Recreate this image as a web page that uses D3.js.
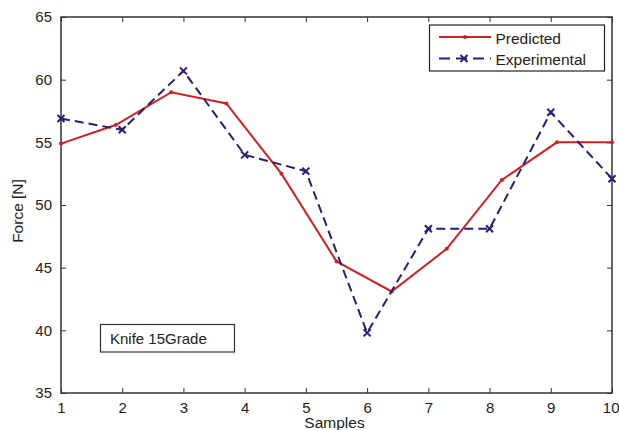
<!DOCTYPE html>
<meta charset="utf-8">
<script src="https://d3js.org/d3.v7.min.js"></script>
<style>
  body { margin: 0; background: #fff; }
  text { font-family: "Liberation Sans", Arial, sans-serif; fill: #222; }
</style>
<div id="chart"></div>

<script>
  // data
  var predX = [1, 1.9, 2.8, 3.7, 4.6, 5.5, 6.4, 7.3, 8.2, 9.1, 10];
  var predY = [54.9, 56.4, 59.0, 58.1, 52.5, 45.5, 43.1, 46.5, 52.0, 55.0, 55.0];
  var expX = [1, 2, 3, 4, 5, 6, 7, 8, 9, 10];
  var expY = [56.9, 56.0, 60.7, 54.0, 52.7, 39.8, 48.1, 48.1, 57.4, 52.1];
  var xTicks = [1, 2, 3, 4, 5, 6, 7, 8, 9, 10];
  var yTicks = [35, 40, 45, 50, 55, 60, 65];

  var margin = { top: 17, right: 7, bottom: 37, left: 61 },
    width = 619 - margin.left - margin.right,
    height = 430 - margin.top - margin.bottom;

  var svg = d3.select("#chart")
    .append("svg")
    .attr("width", 619)
    .attr("height", 430)
    .append("g")
    .attr("transform", "translate(" + margin.left + "," + margin.top + ")");

  var x = d3.scaleLinear().domain([1, 10]).range([0, width]);
  var y = d3.scaleLinear().domain([35, 65]).range([height, 0]);

  // axes, matlab style: ticks inside on all four sides
  function styleAxis(g) {
    g.select(".domain").remove();
    g.selectAll(".tick line").attr("stroke", "#333").attr("stroke-width", 1);
    g.selectAll(".tick text").style("font-size", "15px").attr("fill", "#333");
  }
  var gx = svg.append("g")
    .attr("transform", "translate(0," + height + ")")
    .call(d3.axisBottom(x).tickValues(xTicks).tickSize(-5).tickPadding(9))
    .call(styleAxis);
  // last label sits at the window edge, keep it inside
  gx.selectAll(".tick text")
    .filter(function (d) { return d === 10; })
    .attr("text-anchor", "end")
    .attr("x", 7);
  svg.append("g")
    .call(d3.axisLeft(y).tickValues(yTicks).tickSize(-5).tickPadding(9))
    .call(styleAxis);
  svg.append("g")
    .call(d3.axisTop(x).tickValues(xTicks).tickSize(-5).tickFormat(""))
    .call(styleAxis);
  svg.append("g")
    .attr("transform", "translate(" + width + ",0)")
    .call(d3.axisRight(y).tickValues(yTicks).tickSize(-5).tickFormat(""))
    .call(styleAxis);

  svg.append("rect")
    .attr("width", width)
    .attr("height", height)
    .attr("fill", "none")
    .attr("stroke", "#333")
    .attr("stroke-width", 1.5);

  // axis labels
  svg.append("text")
    .attr("x", width / 2 - 2)
    .attr("y", height + 35)
    .attr("text-anchor", "middle")
    .style("font-size", "15.5px")
    .text("Samples");
  svg.append("text")
    .attr("transform", "translate(-38," + (height / 2 + 6) + ") rotate(-90)")
    .attr("text-anchor", "middle")
    .style("font-size", "15.5px")
    .text("Force [N]");

  var red = "#cc2222", blue = "#2a1d7a";

  var predData = predX.map(function (d, i) { return [d, predY[i]]; });
  var expData = expX.map(function (d, i) { return [d, expY[i]]; });
  var line = d3.line()
    .x(function (d) { return x(d[0]); })
    .y(function (d) { return y(d[1]); });

  svg.append("path")
    .datum(predData)
    .attr("d", line)
    .attr("fill", "none")
    .attr("stroke", red)
    .attr("stroke-width", 2);
  svg.selectAll(".pdot")
    .data(predData)
    .enter().append("circle")
    .attr("cx", function (d) { return x(d[0]); })
    .attr("cy", function (d) { return y(d[1]); })
    .attr("r", 2)
    .attr("fill", red);

  svg.append("path")
    .datum(expData)
    .attr("d", line)
    .attr("fill", "none")
    .attr("stroke", blue)
    .attr("stroke-width", 2)
    .attr("stroke-dasharray", "9,5");

  function xMark(g, cx, cy) {
    g.append("path")
      .attr("d", "M" + (cx - 3.5) + "," + (cy - 3.5) + "L" + (cx + 3.5) + "," + (cy + 3.5) +
        "M" + (cx - 3.5) + "," + (cy + 3.5) + "L" + (cx + 3.5) + "," + (cy - 3.5))
      .attr("stroke", blue)
      .attr("stroke-width", 2);
  }
  expData.forEach(function (d) { xMark(svg, x(d[0]), y(d[1])); });

  // legend (page coords)
  var root = d3.select("#chart svg");
  var leg = root.append("g");
  leg.append("rect")
    .attr("x", 429.5).attr("y", 25)
    .attr("width", 175).attr("height", 46)
    .attr("fill", "#fff").attr("stroke", "#222").attr("stroke-width", 1.2);
  leg.append("line")
    .attr("x1", 439).attr("x2", 491).attr("y1", 37).attr("y2", 37)
    .attr("stroke", red).attr("stroke-width", 2);
  leg.append("circle").attr("cx", 465).attr("cy", 37).attr("r", 2).attr("fill", red);
  leg.append("line")
    .attr("x1", 439).attr("x2", 491).attr("y1", 58.5).attr("y2", 58.5)
    .attr("stroke", blue).attr("stroke-width", 2)
    .attr("stroke-dasharray", "11,6");
  xMark(leg, 464, 58.5);
  leg.append("text").attr("x", 495.5).attr("y", 43.5)
    .style("font-size", "15.5px").text("Predicted");
  leg.append("text").attr("x", 495.5).attr("y", 64.5)
    .style("font-size", "15.5px").text("Experimental");

  // annotation box
  root.append("rect")
    .attr("x", 100.5).attr("y", 324.5)
    .attr("width", 134).attr("height", 27.5)
    .attr("fill", "#fff").attr("stroke", "#333").attr("stroke-width", 1.2);
  root.append("text")
    .attr("x", 110).attr("y", 343.5)
    .style("font-size", "15px")
    .text("Knife 15Grade");
</script>
